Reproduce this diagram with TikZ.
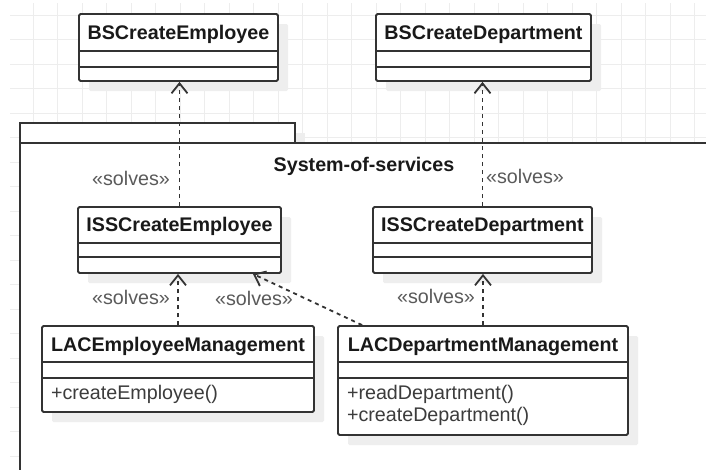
\documentclass[tikz,border=0pt]{standalone}
\usepackage{fontspec}
\setmainfont{Liberation Sans}
\usetikzlibrary{arrows.meta,shadows,calc}

\definecolor{linecol}{HTML}{333333}
\definecolor{gridcol}{HTML}{EDEDED}
\definecolor{shadowcol}{HTML}{EEEEEE}
\definecolor{labelcol}{HTML}{5A5A5A}
\definecolor{opcol}{HTML}{3C3C3C}

\begin{document}
\begin{tikzpicture}[x=1pt, y=-1pt, line width=1.8pt,
    classbox/.style={draw=linecol, fill=white, rounded corners=1.5pt, inner sep=0pt,
      drop shadow={shadow xshift=10pt, shadow yshift=-10pt, fill=shadowcol, opacity=1}},
    classname/.style={font=\fontsize{19.7}{22}\selectfont\bfseries, text=black!90, anchor=base, inner sep=0pt},
    operation/.style={font=\fontsize{19.7}{22}\selectfont, text=opcol, anchor=base west, inner sep=0pt},
    stereo/.style={font=\fontsize{19.7}{22}\selectfont, text=labelcol, anchor=base, inner sep=0pt},
    solves/.style={draw=linecol, dash pattern=on 4pt off 4pt, -{Straight Barb[length=10pt,width=16pt]}},
    sepline/.style={draw=linecol},
    pkgline/.style={draw=linecol, fill=white},
    gridline/.style={draw=gridcol, line width=1pt}]
	\path[use as bounding box, clip] (0,0) rectangle (706,469);
	% background grid
	\foreach \i in {0,...,27}
		\draw[gridline] ({33+24.5*\i},3) -- ({33+24.5*\i},469);
	\foreach \j in {0,...,18}
		\draw[gridline] (10,{15+24.5*\j}) -- (706,{15+24.5*\j});
	% package
	\draw[pkgline, drop shadow={shadow xshift=10pt, shadow yshift=-10pt, fill=shadowcol, opacity=1}] (20,123) rectangle (295,143);
	\draw[pkgline] (20,143) rectangle (730,490);
	\node[classname] (pkg-t) at (364,171) {System-of-services};
	% classes
	\node[classbox, minimum width=199pt, minimum height=67pt] (bsemp) at (178.5,47.5) {};
	\node[classbox, minimum width=215pt, minimum height=67pt] (bsdep) at (483.5,47.5) {};
	\node[classbox, minimum width=203pt, minimum height=66pt] (issemp) at (179.5,240) {};
	\node[classbox, minimum width=219pt, minimum height=66pt] (issdep) at (482.5,240) {};
	\node[classbox, minimum width=272pt, minimum height=86pt] (lacemp) at (178,369) {};
	\node[classbox, minimum width=290pt, minimum height=109pt] (lacdep) at (483,380.5) {};
	\foreach \c/\a/\b in {bsemp/38/54, bsdep/38/54, issemp/37/51, issdep/37/51, lacemp/37/53, lacdep/37/53} {
		\draw[sepline] ($(\c.north west)+(0,\a)$) -- ($(\c.north east)+(0,\a)$);
		\draw[sepline] ($(\c.north west)+(0,\b)$) -- ($(\c.north east)+(0,\b)$);
	}
	\node[classname] (bsemp-t) at ($(bsemp.north)+(0,26)$) {BSCreateEmployee};
	\node[classname] (bsdep-t) at ($(bsdep.north)+(0,26)$) {BSCreateDepartment};
	\node[classname] (issemp-t) at ($(issemp.north)+(0,25.5)$) {ISSCreateEmployee};
	\node[classname] (issdep-t) at ($(issdep.north)+(0,25.5)$) {ISSCreateDepartment};
	\node[classname] (lacemp-t) at ($(lacemp.north)+(0,26)$) {LACEmployeeManagement};
	\node[classname] (lacdep-t) at ($(lacdep.north)+(0,26)$) {LACDepartmentManagement};
	\node[operation] (lacemp-op1) at ($(lacemp.north west)+(9,74)$) {+createEmployee()};
	\node[operation] (lacdep-op1) at ($(lacdep.north west)+(9,74)$) {+readDepartment()};
	\node[operation] (lacdep-op2) at ($(lacdep.north west)+(9,96)$) {+createDepartment()};
	% realisations
	\draw[solves] (issemp.north) -- (issemp.north |- bsemp.south);
	\draw[solves] (issdep.north) -- (issdep.north |- bsdep.south);
	\draw[solves] (lacemp.north) -- (lacemp.north |- issemp.south);
	\draw[solves] (lacdep.north) -- (lacdep.north |- issdep.south);
	\coordinate (lacdep-nw) at ($(lacdep.north west)+(25,0)$);
	\coordinate (issemp-se) at ($(issemp.south east)+(-29,0)$);
	\draw[solves] (lacdep-nw) -- (issemp-se);
	\node[stereo] (lbl1) at (131,185) {«solves»};
	\node[stereo] (lbl2) at (525,183) {«solves»};
	\node[stereo] (lbl3) at (131,304) {«solves»};
	\node[stereo] (lbl4) at (254,305) {«solves»};
	\node[stereo] (lbl5) at (436,303) {«solves»};
\end{tikzpicture}
\end{document}
